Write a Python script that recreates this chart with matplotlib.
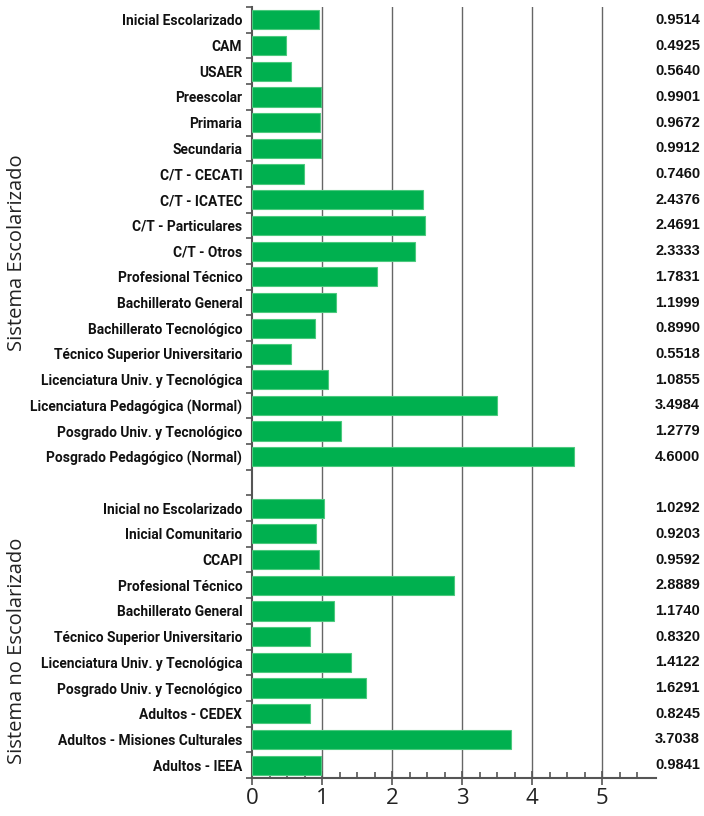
import matplotlib
matplotlib.use("Agg")
import matplotlib.pyplot as plt
from matplotlib.ticker import FixedLocator
import matplotlib.transforms as mtransforms

cats_esc = ["Inicial Escolarizado", "CAM", "USAER", "Preescolar", "Primaria", "Secundaria",
            "C/T - CECATI", "C/T - ICATEC", "C/T - Particulares", "C/T - Otros",
            "Profesional Técnico", "Bachillerato General", "Bachillerato Tecnológico",
            "Técnico Superior Universitario", "Licenciatura Univ. y Tecnológica",
            "Licenciatura Pedagógica (Normal)", "Posgrado Univ. y Tecnológico",
            "Posgrado Pedagógico (Normal)"]
vals_esc = [0.9514, 0.4925, 0.5640, 0.9901, 0.9672, 0.9912, 0.7460, 2.4376, 2.4691, 2.3333,
            1.7831, 1.1999, 0.8990, 0.5518, 1.0855, 3.4984, 1.2779, 4.6000]

cats_noesc = ["Inicial no Escolarizado", "Inicial Comunitario", "CCAPI", "Profesional Técnico",
              "Bachillerato General", "Técnico Superior Universitario",
              "Licenciatura Univ. y Tecnológica", "Posgrado Univ. y Tecnológico",
              "Adultos - CEDEX", "Adultos - Misiones Culturales", "Adultos - IEEA"]
vals_noesc = [1.0292, 0.9203, 0.9592, 2.8889, 1.1740, 0.8320, 1.4122, 1.6291, 0.8245,
              3.7038, 0.9841]

group_labels = ["Sistema Escolarizado", "Sistema no Escolarizado"]
xticks = [0, 1, 2, 3, 4, 5]

GREEN = "#00B04F"
EDGE = "#4cc97e"

fig = plt.figure(figsize=(7.04, 8.16), dpi=100)
ax = fig.add_axes([252/704, 1-778/816, (656-252)/704, (778-7)/816])

pos_esc = list(range(len(cats_esc)))
pos_noesc = [len(cats_esc) + 1 + i for i in range(len(cats_noesc))]
positions = pos_esc + pos_noesc
labels = cats_esc + cats_noesc
values = vals_esc + vals_noesc

ax.barh(positions, values, height=0.75, color=GREEN, edgecolor=EDGE, linewidth=0.8, zorder=3)

ax.set_xlim(0, 5.77)
ax.set_ylim(len(positions) + 0.5, -0.5)

ax.set_yticks(positions)
ax.set_yticklabels(labels, fontfamily="Roboto", fontweight="bold",
                   fontsize=9.9, color="#111111")
ax.yaxis.set_minor_locator(FixedLocator([p - 0.5 for p in range(len(positions) + 2)]))
ax.tick_params(axis="y", which="major", length=0, pad=7)
ax.tick_params(axis="y", which="minor", length=4, width=1.2, color="#555555")

ax.set_xticks(xticks)
ax.set_xticklabels([str(t) for t in xticks], fontfamily="Open Sans", fontsize=16, color="#222222")
ax.xaxis.set_minor_locator(FixedLocator([i * 0.25 for i in range(23) if i % 4 != 0]))
ax.tick_params(axis="x", which="major", direction="inout", length=10, width=1.2, color="#555555", pad=2)
ax.tick_params(axis="x", which="minor", direction="in", length=4, width=1.2, color="#555555")

for t in xticks[1:]:
    ax.axvline(t, color="#666666", linewidth=1.0, zorder=1)

for s in ["top", "right"]:
    ax.spines[s].set_visible(False)
for s in ["left", "bottom"]:
    ax.spines[s].set_color("#555555")
    ax.spines[s].set_linewidth(1.5)

trans = mtransforms.blended_transform_factory(fig.transFigure, ax.transData)
for p, v in zip(positions, values):
    ax.text(700/704, p, f"{v:.4f}", transform=trans, ha="right", va="center",
            fontfamily="Liberation Sans", fontweight="bold", fontsize=10.5, color="#111111")

fig.text(17/704, 1-253/816, group_labels[0], rotation=90, ha="center", va="center",
         fontsize=14.5, fontfamily="Open Sans", color="#222222")
fig.text(17/704, 1-651/816, group_labels[1], rotation=90, ha="center", va="center",
         fontsize=14.5, fontfamily="Open Sans", color="#222222")

fig.savefig("out.png", dpi=100)
